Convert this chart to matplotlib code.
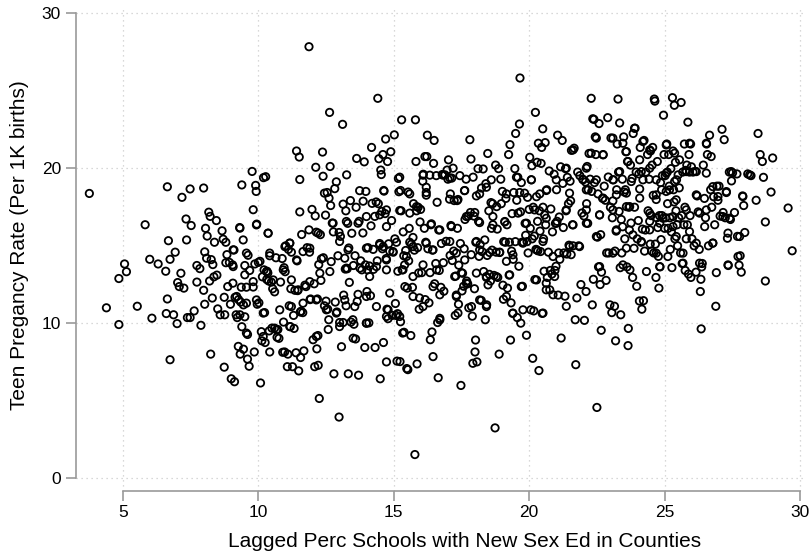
import matplotlib.pyplot as plt
import numpy as np

# lagged % schools with new sex ed (x) and teen pregnancy rate per 1K births (y)
pct_schools = [
    3.76, 4.39, 4.85, 4.85, 5.06, 5.13, 5.53, 5.82, 5.99, 6.07, 6.3, 6.58, 6.64, 6.68, 6.64, 6.6,
    6.74, 6.74, 6.93, 6.87, 7.0, 7.02, 7.08, 7.14, 7.18, 7.25, 7.33, 7.35, 7.38, 7.48, 7.52, 7.48,
    7.63, 7.73, 7.73, 7.84, 7.88, 7.98, 7.98, 8.02, 8.02, 8.05, 8.09, 8.11, 8.17, 8.2, 8.24, 8.22,
    8.26, 8.3, 8.32, 8.36, 8.38, 8.45, 8.47, 8.5, 8.59, 8.66, 8.7, 8.74, 8.74, 8.76, 8.8, 8.8,
    8.84, 8.87, 8.93, 8.97, 9.0, 9.05, 9.06, 9.1, 9.12, 9.14, 9.18, 9.22, 9.26, 9.27, 9.31, 9.33,
    9.35, 9.37, 9.39, 9.39, 9.45, 9.45, 9.5, 9.5, 9.56, 9.6, 9.6, 9.62, 9.66, 9.68, 9.77, 9.81,
    9.81, 9.85, 9.87, 9.9, 9.92, 9.94, 9.96, 10.0, 10.02, 10.06, 10.08, 10.11, 10.13, 10.15, 10.19, 10.21,
    10.23, 10.25, 10.27, 10.31, 10.32, 10.35, 10.36, 10.38, 10.4, 10.42, 10.42, 10.48, 10.5, 10.53, 10.6, 10.6,
    10.65, 10.69, 10.72, 10.76, 10.82, 10.88, 10.9, 10.93, 10.95, 10.97, 10.99, 11.01, 11.07, 11.09, 11.11, 11.14,
    11.16, 11.18, 11.2, 11.22, 11.26, 11.3, 11.32, 11.35, 11.39, 11.41, 11.43, 11.45, 11.49, 11.51, 11.53, 11.53,
    11.55, 11.56, 11.58, 11.6, 11.64, 11.68, 11.72, 11.76, 11.8, 11.87, 11.87, 11.89, 11.91, 11.93, 11.98, 12.02,
    12.06, 12.08, 12.1, 12.12, 12.14, 12.16, 12.18, 12.2, 12.21, 12.23, 12.25, 12.29, 12.31, 12.33, 12.37, 12.39,
    12.4, 12.44, 12.44, 12.48, 12.5, 12.54, 12.56, 12.58, 12.6, 12.61, 12.63, 12.65, 12.67, 12.69, 12.73, 12.77,
    12.79, 12.82, 12.84, 12.88, 12.9, 12.94, 12.98, 12.98, 13.0, 13.03, 13.07, 13.11, 13.13, 13.13, 13.15, 13.19,
    13.21, 13.23, 13.24, 13.26, 13.28, 13.3, 13.32, 13.34, 13.36, 13.4, 13.42, 13.45, 13.49, 13.51, 13.53, 13.57,
    13.59, 13.61, 13.63, 13.65, 13.68, 13.7, 13.72, 13.74, 13.78, 13.82, 13.86, 13.87, 13.91, 13.93, 13.95, 13.97,
    13.99, 14.01, 14.03, 14.05, 14.08, 14.1, 14.14, 14.16, 14.18, 14.2, 14.24, 14.25, 14.3, 14.31, 14.35, 14.39,
    14.41, 14.43, 14.45, 14.48, 14.5, 14.52, 14.54, 14.56, 14.58, 14.6, 14.62, 14.64, 14.68, 14.7, 14.72, 14.73,
    14.75, 14.77, 14.79, 14.81, 14.85, 14.89, 14.92, 14.94, 14.98, 15.02, 15.04, 15.06, 15.08, 15.1, 15.12, 15.14,
    15.15, 15.17, 15.19, 15.23, 15.25, 15.27, 15.29, 15.31, 15.33, 15.35, 15.37, 15.38, 15.4, 15.44, 15.48, 15.5,
    15.52, 15.53, 15.55, 15.57, 15.59, 15.63, 15.65, 15.69, 15.71, 15.73, 15.76, 15.78, 15.8, 15.82, 15.84, 15.86,
    15.88, 15.9, 15.92, 15.94, 15.95, 15.97, 15.99, 16.03, 16.07, 16.09, 16.13, 16.15, 16.16, 16.18, 16.2, 16.22,
    16.24, 16.26, 16.3, 16.34, 16.35, 16.37, 16.41, 16.43, 16.45, 16.47, 16.49, 16.51, 16.55, 16.57, 16.6, 16.62,
    16.64, 16.66, 16.68, 16.7, 16.74, 16.76, 16.79, 16.83, 16.85, 16.89, 16.93, 16.97, 17.0, 17.02, 17.06, 17.08,
    17.11, 17.14, 17.16, 17.19, 17.21, 17.23, 17.27, 17.29, 17.31, 17.35, 17.37, 17.39, 17.4, 17.44, 17.46, 17.48,
    17.5, 17.52, 17.54, 17.58, 17.6, 17.61, 17.63, 17.67, 17.69, 17.73, 17.75, 17.77, 17.81, 17.83, 17.85, 17.86,
    17.9, 17.92, 17.96, 17.98, 18.0, 18.02, 18.03, 18.05, 18.07, 18.11, 18.13, 18.15, 18.19, 18.23, 18.24, 18.26,
    18.3, 18.32, 18.36, 18.38, 18.4, 18.42, 18.43, 18.45, 18.47, 18.51, 18.53, 18.57, 18.59, 18.61, 18.63, 18.65,
    18.66, 18.7, 18.74, 18.76, 18.78, 18.8, 18.82, 18.84, 18.87, 18.89, 18.91, 18.95, 18.97, 19.01, 19.03, 19.05,
    19.06, 19.1, 19.12, 19.14, 19.16, 19.18, 19.2, 19.24, 19.26, 19.27, 19.29, 19.31, 19.33, 19.35, 19.37, 19.39,
    19.41, 19.43, 19.47, 19.49, 19.5, 19.54, 19.56, 19.58, 19.62, 19.64, 19.66, 19.68, 19.69, 19.71, 19.73, 19.75,
    19.79, 19.83, 19.85, 19.87, 19.9, 19.92, 19.94, 19.96, 20.0, 20.02, 20.04, 20.06, 20.08, 20.1, 20.11, 20.13,
    20.15, 20.17, 20.19, 20.21, 20.23, 20.25, 20.27, 20.29, 20.31, 20.32, 20.34, 20.36, 20.38, 20.4, 20.42, 20.44,
    20.46, 20.48, 20.5, 20.51, 20.53, 20.55, 20.57, 20.59, 20.61, 20.63, 20.65, 20.67, 20.71, 20.74, 20.76, 20.78,
    20.8, 20.84, 20.86, 20.88, 20.92, 20.95, 20.97, 20.99, 21.01, 21.03, 21.05, 21.07, 21.09, 21.11, 21.13, 21.16,
    21.18, 21.22, 21.24, 21.26, 21.28, 21.32, 21.34, 21.36, 21.37, 21.39, 21.41, 21.45, 21.47, 21.51, 21.53, 21.55,
    21.56, 21.6, 21.62, 21.66, 21.7, 21.72, 21.76, 21.79, 21.83, 21.87, 21.91, 21.95, 21.98, 22.02, 22.04, 22.08,
    22.1, 22.12, 22.14, 22.16, 22.18, 22.21, 22.25, 22.29, 22.31, 22.33, 22.35, 22.37, 22.39, 22.41, 22.44, 22.46,
    22.5, 22.52, 22.54, 22.56, 22.58, 22.6, 22.62, 22.64, 22.66, 22.67, 22.71, 22.73, 22.77, 22.81, 22.84, 22.86,
    22.9, 22.92, 22.94, 22.98, 23.0, 23.02, 23.05, 23.07, 23.09, 23.11, 23.15, 23.17, 23.19, 23.21, 23.23, 23.25,
    23.28, 23.3, 23.32, 23.34, 23.36, 23.38, 23.4, 23.42, 23.44, 23.45, 23.49, 23.51, 23.53, 23.55, 23.57, 23.59,
    23.61, 23.63, 23.65, 23.66, 23.68, 23.7, 23.72, 23.74, 23.76, 23.8, 23.82, 23.84, 23.87, 23.89, 23.91, 23.95,
    23.97, 23.99, 24.03, 24.05, 24.07, 24.08, 24.1, 24.14, 24.16, 24.18, 24.2, 24.22, 24.24, 24.26, 24.29, 24.31,
    24.33, 24.37, 24.39, 24.43, 24.45, 24.47, 24.48, 24.5, 24.52, 24.54, 24.56, 24.58, 24.6, 24.62, 24.64, 24.66,
    24.68, 24.69, 24.71, 24.73, 24.75, 24.77, 24.79, 24.81, 24.83, 24.85, 24.87, 24.89, 24.9, 24.92, 24.96, 24.98,
    25.0, 25.02, 25.04, 25.06, 25.08, 25.1, 25.11, 25.13, 25.15, 25.17, 25.19, 25.21, 25.23, 25.25, 25.27, 25.29,
    25.31, 25.33, 25.35, 25.36, 25.38, 25.4, 25.42, 25.44, 25.46, 25.48, 25.5, 25.52, 25.54, 25.55, 25.59, 25.61,
    25.63, 25.65, 25.67, 25.71, 25.73, 25.75, 25.76, 25.78, 25.8, 25.82, 25.84, 25.86, 25.88, 25.9, 25.92, 25.94,
    25.96, 25.97, 25.99, 26.01, 26.05, 26.09, 26.13, 26.16, 26.2, 26.24, 26.28, 26.32, 26.34, 26.35, 26.37, 26.39,
    26.43, 26.47, 26.51, 26.55, 26.58, 26.62, 26.66, 26.7, 26.74, 26.78, 26.81, 26.85, 26.89, 26.91, 26.93, 26.97,
    27.01, 27.05, 27.12, 27.16, 27.2, 27.24, 27.28, 27.32, 27.35, 27.39, 27.43, 27.47, 27.51, 27.58, 27.67, 27.69,
    27.75, 27.79, 27.83, 27.88, 27.92, 27.96, 28.07, 28.19, 28.38, 28.45, 28.53, 28.61, 28.65, 28.72, 28.72, 28.93,
    28.99, 29.56, 29.71,
    # denser middle band
    14.63, 15.22, 15.25, 15.59, 16.08, 16.33, 16.2, 16.2, 16.82, 17.07, 17.09, 17.34, 17.62, 17.93, 18.17, 18.42,
    18.6, 19.16, 19.53, 19.65, 20.08, 20.39, 20.63, 21.0, 14.73, 14.73, 15.22, 15.59, 15.84, 16.39, 16.7, 17.13,
    17.68, 17.99, 18.17, 18.66, 19.1, 19.59, 19.9, 20.2, 20.63, 21.0, 14.61, 14.97, 15.47, 15.71, 16.2, 16.45,
    17.07, 17.31, 17.62, 18.05, 18.17, 18.54, 18.91, 19.4, 19.77, 20.27, 20.51, 20.88, 14.73, 15.34, 15.71, 16.08,
    16.58, 17.25, 17.68, 18.05, 18.42, 18.48, 18.79, 19.28, 19.71, 20.27, 20.63, 20.94, 14.85, 15.41, 15.71, 16.45,
    16.7, 17.31, 18.17, 19.16, 19.77, 20.51, 14.79, 15.22, 16.08, 16.7, 17.37, 17.87, 18.42, 19.4,
    22.48, 23.09, 23.46, 23.89, 24.2, 24.45, 21.62, 22.29, 22.73, 23.59, 23.65, 24.08, 25.06, 25.37, 25.92, 26.54,
    26.72, 21.37, 22.11, 21.99, 22.48, 23.09, 23.34, 23.77, 24.14, 24.45, 24.69, 25.06, 25.37, 25.8, 26.17, 26.54,
    27.46, 28.14, 21.49, 22.11, 22.73, 23.22, 23.59, 24.08, 24.69, 25.18, 25.43, 26.17, 26.78, 26.97, 27.28, 27.89,
    21.37, 22.11, 22.6, 23.09, 23.71, 24.45, 24.94, 25.31, 25.8, 26.29, 26.54, 27.15, 27.4, 21.62, 22.11, 23.22,
    23.83, 24.45, 24.82, 25.31, 25.43, 25.92, 26.48, 27.34, 27.77, 21.49, 21.86, 22.48, 23.09, 23.59, 24.14, 24.69,
    25.12, 25.68, 26.17, 26.78, 26.29, 27.34, 27.71, 22.6, 23.46, 24.82, 25.68,
    9.32, 9.93, 10.36, 9.44, 9.07, 9.56, 10.42, 10.98, 11.16, 11.41, 11.65, 11.9, 12.21, 12.76, 13.25, 13.68,
    13.99, 14.48, 13.0, 13.31, 13.99, 14.48, 14.73, 9.07, 9.5, 9.81, 10.3, 10.55, 10.92, 11.22, 11.47, 11.9,
    12.27, 12.64, 13.25, 13.75, 14.11, 14.36, 9.2, 9.56, 9.93, 9.32, 10.18, 10.79, 11.22, 11.65, 12.14, 12.51,
    12.88, 13.19, 13.56, 13.99, 14.36, 14.73, 9.56, 10.18, 10.67, 11.16, 12.14, 13.0, 13.5, 13.99,
]
teen_preg_rate = [
    18.35, 10.97, 9.89, 12.86, 13.8, 13.3, 11.07, 16.33, 14.1, 10.3, 13.8, 13.33, 18.78, 15.3, 11.54, 10.6,
    7.62, 14.1, 14.56, 10.52, 9.95, 12.6, 12.34, 13.2, 18.1, 12.24, 16.7, 15.35, 10.34, 18.64, 16.28, 10.34,
    10.77, 12.63, 13.7, 13.5, 9.84, 18.7, 12.1, 11.2, 14.58, 16.1, 14.17, 15.6, 17.14, 12.7, 7.98, 16.87,
    14.08, 11.6, 13.76, 12.97, 15.2, 16.6, 13.08, 10.9, 10.52, 15.94, 15.4, 11.65, 7.14, 10.52, 13.88, 15.2,
    14.4, 12.34, 13.9, 11.2, 6.39, 13.74, 12.56, 14.7, 6.2, 11.65, 10.52, 10.34, 8.48, 11.5, 16.15, 7.98,
    11.34, 12.3, 18.9, 9.75, 8.3, 11.16, 13.7, 10.39, 12.3, 7.66, 9.25, 14.36, 7.2, 13.38, 19.77, 12.31,
    17.3, 8.12, 13.8, 18.87, 18.48, 16.37, 11.2, 13.9, 11.29, 13.97, 6.12, 9.43, 8.84, 12.97, 19.37, 13.42,
    10.66, 8.73, 19.43, 12.8, 13.33, 13.22, 15.78, 12.7, 9.48, 8.12, 14.33, 12.63, 9.66, 12.2, 9.66, 12.0,
    14.2, 9.07, 9.57, 9.0, 12.63, 14.15, 8.1, 10.05, 13.56, 8.12, 13.3, 14.97, 7.17, 7.98, 14.74, 11.1,
    15.15, 9.75, 12.2, 14.56, 7.17, 10.48, 9.64, 12.1, 8.07, 21.09, 14.0, 12.08, 6.9, 20.7, 17.16, 19.25,
    10.7, 7.76, 10.75, 15.7, 10.66, 8.19, 12.43, 12.34, 14.85, 27.82, 16.0, 14.56, 11.5, 11.54, 17.32, 8.91,
    12.52, 7.17, 16.9, 20.04, 15.85, 8.32, 11.54, 9.18, 7.26, 13.76, 5.12, 15.69, 12.74, 14.13, 21.02, 19.46,
    14.2, 18.37, 11.1, 16.95, 11.4, 18.41, 10.88, 9.57, 10.2, 18.05, 23.58, 20.09, 17.57, 13.95, 16.44, 15.87,
    6.71, 18.66, 11.34, 19.1, 10.7, 14.33, 3.92, 15.83, 10.02, 15.58, 8.46, 22.81, 17.66, 10.02, 11.79, 14.17,
    13.47, 17.23, 11.1, 19.55, 13.49, 16.42, 6.71, 14.83, 12.61, 17.89, 10.05, 15.78, 10.2, 13.7, 9.91, 14.33,
    8.96, 17.46, 20.61, 11.38, 11.84, 6.62, 16.55, 18.53, 14.0, 13.42, 15.8, 17.85, 20.39, 8.41, 13.74, 18.48,
    9.98, 12.02, 13.42, 14.85, 10.0, 13.67, 11.75, 16.26, 21.32, 17.71, 14.74, 13.45, 16.87, 8.41, 17.8, 14.0,
    24.49, 17.69, 20.59, 15.12, 6.39, 19.86, 19.57, 17.19, 14.78, 20.86, 8.73, 18.5, 17.05, 21.86, 14.15, 7.48,
    10.88, 20.41, 10.27, 15.1, 14.63, 21.04, 16.6, 10.48, 14.56, 22.13, 15.42, 11.25, 10.48, 15.2, 7.53, 10.59,
    13.33, 19.32, 18.46, 7.5, 10.07, 17.23, 23.1, 13.42, 9.34, 15.87, 14.33, 9.39, 13.74, 14.67, 7.05, 12.24,
    6.98, 18.44, 14.0, 16.1, 15.2, 9.18, 15.08, 12.29, 15.51, 17.69, 14.69, 1.5, 23.1, 20.41, 17.23, 7.35,
    14.85, 17.46, 13.22, 10.88, 11.61, 16.51, 17.32, 13.24, 19.14, 19.59, 16.1, 20.73, 11.5, 15.2, 18.41, 20.73,
    22.11, 14.78, 11.29, 13.24, 8.91, 16.33, 9.41, 14.69, 7.82, 20.29, 21.77, 12.52, 13.83, 19.5, 17.78, 10.02,
    6.46, 15.99, 13.38, 10.29, 12.29, 15.12, 19.57, 13.88, 12.04, 19.55, 15.26, 19.86, 19.27, 20.52, 17.98, 14.35,
    16.28, 19.34, 14.02, 19.98, 14.63, 17.89, 10.48, 13.02, 11.79, 16.1, 17.96, 11.2, 13.72, 19.5, 15.12, 5.96,
    13.24, 12.06, 13.2, 12.36, 14.78, 18.53, 16.67, 19.27, 12.7, 12.52, 16.89, 10.97, 21.82, 17.12, 20.57, 14.4,
    10.43, 7.39, 16.89, 12.2, 8.12, 8.89, 15.2, 18.19, 7.48, 19.95, 16.55, 14.29, 15.06, 11.45, 18.7, 14.6,
    19.93, 13.31, 15.35, 10.2, 18.98, 12.93, 11.16, 14.35, 20.93, 17.23, 13.13, 12.7, 17.76, 16.1, 14.69, 17.69,
    16.33, 13.06, 3.22, 20.18, 14.56, 17.5, 16.05, 12.93, 19.95, 7.98, 14.56, 19.27, 17.69, 18.48, 12.43, 11.52,
    15.24, 16.51, 15.2, 18.03, 13.97, 16.33, 12.24, 20.86, 13.08, 15.2, 21.5, 8.89, 11.29, 14.63, 17.05, 10.61,
    14.1, 18.41, 19.95, 15.24, 22.22, 17.91, 10.34, 19.39, 13.65, 22.83, 25.8, 17.16, 9.98, 19.05, 15.2, 12.36,
    15.2, 18.37, 16.42, 15.65, 9.2, 15.24, 18.1, 14.51, 17.32, 20.68, 16.1, 10.84, 19.23, 20.14, 15.42, 7.71,
    17.46, 10.77, 15.6, 12.79, 23.58, 14.74, 18.14, 20.36, 16.55, 14.65, 21.59, 6.92, 17.23, 15.92, 14.6, 20.29,
    21.32, 10.61, 22.52, 17.46, 15.42, 13.33, 16.96, 21.63, 16.33, 12.13, 18.59, 12.93, 14.56, 19.8, 12.13, 13.38,
    17.35, 13.15, 15.87, 11.81, 19.59, 13.38, 16.42, 13.65, 18.59, 16.55, 22.11, 11.79, 14.51, 16.83, 14.1, 20.07,
    9.02, 21.77, 19.0, 16.15, 14.51, 11.72, 19.95, 17.23, 11.07, 14.44, 19.39, 17.69, 15.01, 19.14, 17.87, 14.4,
    21.13, 16.33, 14.97, 21.27, 10.2, 7.3, 11.61, 19.73, 14.97, 19.5, 12.47, 17.09, 19.27, 16.9, 10.16, 19.09,
    12.02, 17.69, 20.09, 16.42, 18.59, 20.93, 19.27, 24.49, 18.48, 11.16, 23.17, 12.81, 23.13, 19.05, 22.0, 20.86,
    4.54, 15.53, 18.32, 13.61, 22.86, 16.96, 12.47, 15.69, 9.52, 13.27, 18.03, 20.86, 18.82, 17.91, 12.74, 14.51,
    23.24, 19.41, 14.51, 11.16, 17.46, 21.93, 10.66, 16.78, 17.87, 19.23, 11.07, 14.63, 8.84, 15.92, 18.59, 21.54,
    24.44, 19.73, 17.19, 22.9, 13.56, 10.52, 16.67, 14.51, 19.27, 16.2, 22.0, 18.44, 15.42, 18.59, 21.04, 17.5,
    13.61, 20.41, 8.53, 9.64, 17.46, 15.99, 13.42, 20.18, 16.44, 19.32, 12.93, 22.22, 14.81, 17.46, 22.56, 19.73,
    12.36, 15.42, 16.6, 19.61, 11.41, 18.64, 21.32, 15.2, 10.88, 16.05, 19.23, 11.43, 21.77, 14.63, 15.99, 19.73,
    13.31, 20.86, 17.23, 19.27, 16.55, 15.08, 21.09, 16.92, 14.63, 20.18, 21.32, 18.23, 14.51, 24.44, 24.31, 15.08,
    12.93, 17.96, 16.78, 20.41, 16.15, 14.29, 12.24, 16.92, 13.61, 19.05, 15.37, 18.59, 16.92, 19.5, 23.4, 20.86,
    16.1, 19.5, 16.78, 18.48, 21.54, 19.73, 17.69, 16.1, 20.86, 18.82, 16.78, 14.74, 19.95, 15.87, 13.56, 24.53,
    21.09, 18.59, 17.8, 24.04, 15.42, 20.36, 17.23, 19.23, 16.33, 14.97, 19.55, 16.78, 18.71, 20.52, 14.51, 24.22,
    16.92, 13.83, 19.73, 16.33, 21.54, 17.46, 13.38, 19.84, 15.42, 20.18, 16.33, 22.95, 13.15, 20.86, 19.73, 16.92,
    21.54, 12.93, 20.07, 15.42, 19.73, 14.97, 19.77, 13.27, 18.19, 17.16, 14.74, 12.02, 12.81, 9.61, 13.61, 13.83,
    20.18, 18.03, 16.78, 21.54, 20.86, 14.97, 22.11, 18.59, 17.46, 15.15, 18.14, 16.33, 11.07, 13.24, 18.82, 17.91,
    18.82, 16.89, 22.49, 17.12, 21.82, 16.78, 18.41, 15.46, 13.7, 19.73, 16.67, 19.16, 19.68, 17.12, 19.61, 15.58,
    13.72, 14.33, 13.27, 18.19, 17.57, 15.83, 19.61, 19.5, 17.91, 22.22, 20.86, 20.41, 19.39, 16.51, 12.7, 18.44,
    20.64, 17.41, 14.65,
    # denser middle band
    18.54, 19.4, 18.54, 18.32, 19.53, 19.53, 18.75, 18.24, 19.53, 19.35, 18.32, 17.89, 18.54, 19.4, 18.32, 18.75,
    19.23, 18.32, 19.4, 18.41, 19.23, 18.32, 18.54, 19.23, 17.29, 16.21, 17.25, 17.08, 17.5, 16.39, 16.0, 16.21,
    16.86, 17.12, 16.47, 16.86, 16.54, 17.08, 16.43, 17.29, 16.75, 16.43, 14.92, 14.6, 14.28, 14.92, 15.14, 14.71,
    15.25, 14.5, 14.06, 15.25, 14.71, 14.54, 14.54, 14.39, 15.14, 14.71, 15.25, 14.28, 13.42, 13.42, 12.99, 13.74,
    13.42, 12.99, 12.56, 13.21, 12.99, 12.45, 12.99, 13.1, 12.34, 12.77, 12.56, 12.99, 11.92, 12.34, 11.7, 12.34,
    11.81, 11.7, 11.48, 11.7, 10.84, 10.63, 10.84, 10.41, 11.05, 10.19, 10.63, 11.05, 11.05, 10.63,
    21.92, 21.92, 21.59, 22.56, 21.7, 21.16, 21.16, 20.95, 20.84, 21.05, 20.41, 20.52, 21.48, 20.95, 21.59, 21.59,
    20.73, 19.98, 19.98, 19.23, 19.23, 19.23, 19.76, 19.12, 19.76, 19.98, 19.23, 19.66, 19.12, 19.76, 19.76, 19.66,
    19.76, 19.55, 18.37, 18.58, 18.05, 18.26, 18.37, 18.05, 18.26, 18.58, 17.94, 18.26, 18.79, 18.15, 18.47, 18.15,
    17.29, 17.29, 16.97, 17.29, 17.5, 17.08, 16.75, 16.86, 17.29, 17.08, 17.29, 16.86, 16.75, 16.32, 16.43, 16.0,
    15.68, 16.0, 16.43, 16.21, 15.57, 15.89, 16.21, 15.79, 15.57, 14.92, 14.92, 15.57, 14.5, 14.82, 15.25, 14.5,
    14.28, 14.5, 15.14, 15.14, 13.85, 13.74, 14.28, 13.63, 13.74, 13.63, 13.85,
    16.11, 16.32, 15.79, 15.35, 14.71, 14.5, 14.5, 14.92, 15.14, 14.06, 14.6, 14.82, 15.79, 16.43, 16.54, 16.43,
    16.86, 16.97, 15.25, 14.71, 14.82, 15.03, 14.06, 13.63, 13.1, 12.66, 13.31, 12.77, 13.42, 12.77, 12.13, 12.66,
    13.21, 13.31, 13.53, 13.53, 12.99, 13.63, 11.7, 11.27, 11.48, 10.52, 10.63, 10.84, 11.05, 11.27, 11.48, 10.84,
    10.63, 11.48, 11.05, 11.7, 11.05, 10.41, 9.34, 9.12, 9.55, 9.76, 9.12, 9.76, 9.01, 9.98,
]

x_lo, x_hi = 3.255, 30.1
y_lo, y_hi = -0.82, 30.4

plt.rcParams['font.family'] = ['Liberation Sans', 'DejaVu Sans']

fig = plt.figure(figsize=(8.11, 5.51), dpi=100)
ax = fig.add_axes([0.0933, 0.1098, 0.8965, 0.878])

ax.scatter(pct_schools, teen_preg_rate, s=28, facecolors='none',
           edgecolors='black', linewidths=1.3, zorder=3)

ax.set_xlim(x_lo, x_hi)
ax.set_ylim(y_lo, y_hi)
ax.set_xticks([5, 10, 15, 20, 25, 30])
ax.set_yticks([0, 10, 20, 30])

ax.grid(True, color='#cccccc', linestyle=(0, (1, 3)), linewidth=0.9)
ax.set_axisbelow(True)

for s in ['top', 'right']:
    ax.spines[s].set_visible(False)
for s in ['left', 'bottom']:
    ax.spines[s].set_color('#999999')
    ax.spines[s].set_linewidth(1.2)
ax.spines['left'].set_bounds(0, 30)
ax.spines['bottom'].set_bounds(5, 30)

ax.tick_params(axis='both', colors='#999999', labelcolor='black',
               length=7, width=1.2, labelsize=12.5)

ax.set_xlabel('Lagged Perc Schools with New Sex Ed in Counties', fontsize=15)
ax.set_ylabel('Teen Pregancy Rate (Per 1K births)', fontsize=15)
# Stata centres axis titles on the drawn axis line, not on the plot region
ax.xaxis.set_label_coords((17.6 - x_lo) / (x_hi - x_lo), -0.085)
ax.yaxis.set_label_coords(-0.064, (15 - y_lo) / (y_hi - y_lo))

fig.savefig('out.png', dpi=100)
